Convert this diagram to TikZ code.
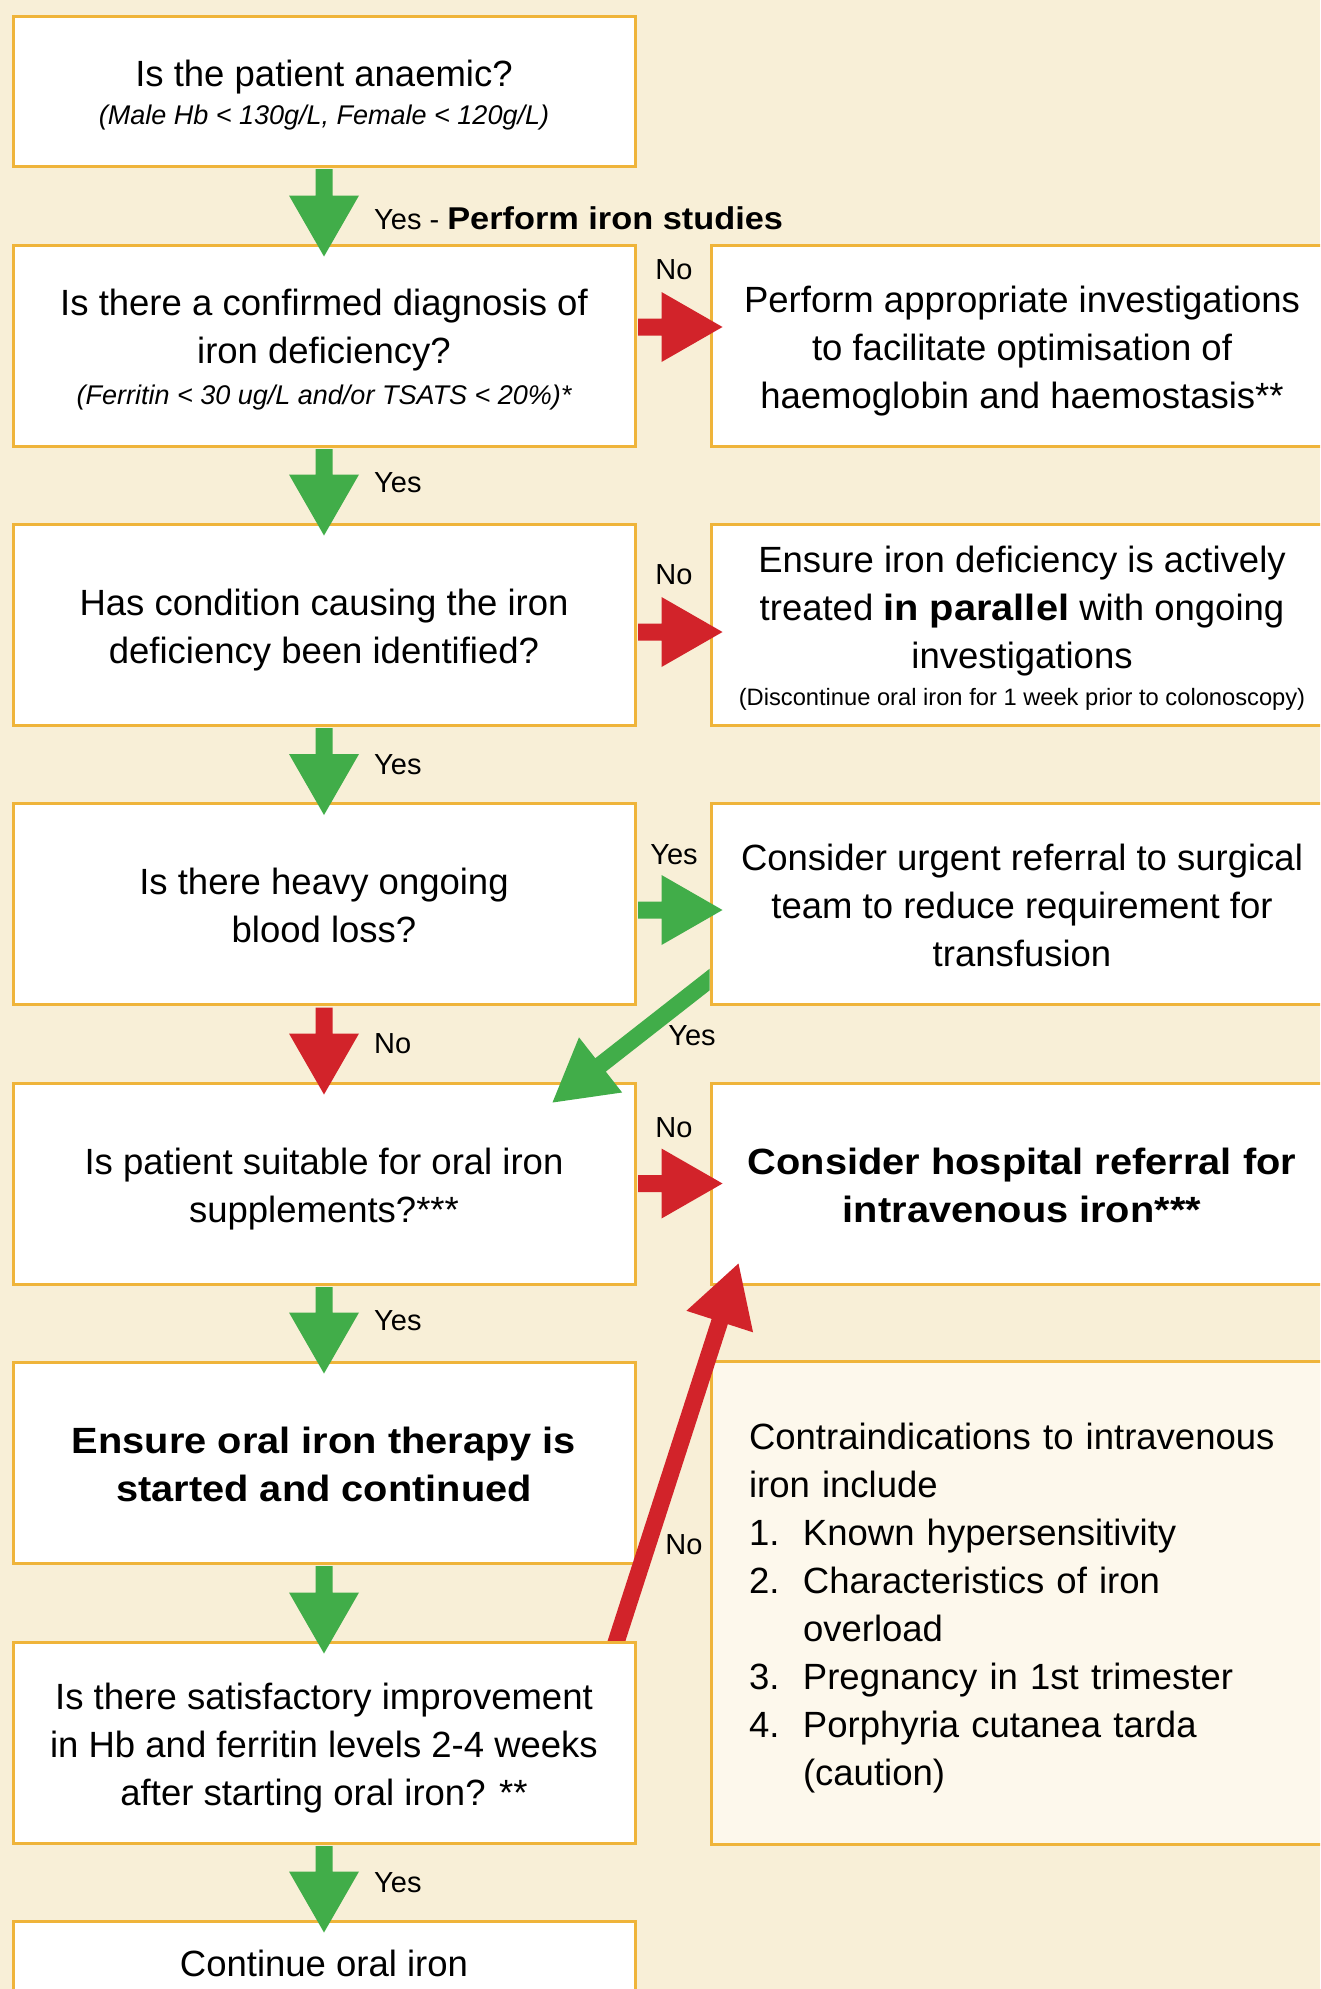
\documentclass[tikz,border=0pt]{standalone}
\usepackage{fontspec}
\setmainfont{Liberation Sans}[BoldFeatures={FakeStretch=1.09}]
\usetikzlibrary{calc}
\definecolor{bgc}{HTML}{F8EFD7}
\definecolor{panel}{HTML}{FDF8EC}
\definecolor{gold}{HTML}{EFB43A}
\definecolor{agreen}{HTML}{41AD49}
\definecolor{ared}{HTML}{D2232A}
\newcommand{\smlit}{\fontsize{27}{44}\selectfont\itshape}
\newcommand{\smlrm}{\fontsize{23.7}{32}\selectfont}
\newcommand{\ts}{\rule{0pt}{38pt}}
\newcommand{\bs}{\rule[-9pt]{0pt}{9pt}}
\newcommand{\fatarrow}[3]{%
  \coordinate (fa1) at (#2);
  \coordinate (fa2) at (#3);
  \coordinate (fab) at ($(fa2)!61pt!(fa1)$);
  \fill[#1] ($(fa1)!8.5pt!90:(fa2)$) -- ($(fab)!8.5pt!90:(fa2)$) -- ($(fab)!35pt!90:(fa2)$)
    -- (fa2) -- ($(fab)!35pt!-90:(fa2)$) -- ($(fab)!8.5pt!-90:(fa2)$) -- ($(fa1)!8.5pt!-90:(fa2)$) -- cycle;}
\begin{document}
\begin{tikzpicture}[x=1pt,y=-1pt,
  box/.style={draw=gold, line width=3pt, fill=white, minimum width=622pt, minimum height=201pt,
    inner sep=0pt, align=center, font=\fontsize{36.5}{48}\selectfont},
  lbl/.style={font=\fontsize{29}{34}\selectfont, inner sep=0pt}]
\useasboundingbox (0,0) rectangle (1320,1989);
\fill[bgc] (0,0) rectangle (1320,1989);
\clip (0,0) rectangle (1320,1989);

% left column
\node[box, minimum height=150pt] (b1) at (324,91) {\ts Is the patient anaemic?\\[-9.5pt]{\smlit (Male Hb < 130g/L, Female < 120g/L)}\bs};
\node[box] (b2) at (324,345.5) {\ts Is there a confirmed diagnosis of\\iron deficiency?\\[-7pt]{\smlit (Ferritin < 30 ug/L and/or TSATS < 20\%)*}\bs};
\node[box] (b3) at (324,624.5) {\ts Has condition causing the iron\\deficiency been identified?\bs};
\node[box] (b4) at (324,904) {\ts Is there heavy ongoing\\blood loss?\bs};
\node[box] (b5) at (324,1183.5) {\ts Is patient suitable for oral iron\\supplements?***\bs};
\node[box] (b6) at (324,1462.5) {\ts\textbf{Ensure oral iron therapy is}\\\textbf{started and continued}\bs};
\node[box] (b7) at (324,1742.5) {\ts Is there satisfactory improvement\\in Hb and ferritin levels 2-4 weeks\\after starting oral iron? **\bs};
\node[box, minimum height=84pt] (b8) at (324,1963) {Continue oral iron};

% right column
\node[box] (r1) at (1022,345.5) {\ts Perform appropriate investigations\\to facilitate optimisation of\\haemoglobin and haemostasis**\bs};
\node[box] (r2) at (1022,624.5) {\ts Ensure iron deficiency is actively\\treated \textbf{in parallel} with ongoing\\investigations\\[-11pt]{\smlrm (Discontinue oral iron for 1 week prior to colonoscopy)}\bs};
\node[box] (r3) at (1022,904) {\ts Consider urgent referral to surgical\\team to reduce requirement for\\transfusion\bs};
\node[box] (r4) at (1022,1183.5) {\ts\textbf{Consider hospital referral for}\\\textbf{intravenous iron***}\bs};
\node[box, fill=panel, minimum height=483pt, align=left, text width=546pt] (r5) at (1022,1603)
 {\ts Contraindications to intravenous\\
  iron include\\
  \makebox[54pt][l]{1.}Known hypersensitivity\\
  \makebox[54pt][l]{2.}Characteristics of iron\\
  \hspace*{54pt}overload\\
  \makebox[54pt][l]{3.}Pregnancy in 1st trimester\\
  \makebox[54pt][l]{4.}Porphyria cutanea tarda\\
  \hspace*{54pt}(caution)\bs};

% vertical arrows
\fatarrow{agreen}{$(b1.south)+(0,1.5)$}{$(b2.north)+(0,13)$}
\fatarrow{agreen}{$(b2.south)+(0,1.5)$}{$(b3.north)+(0,13)$}
\fatarrow{agreen}{$(b3.south)+(0,1.5)$}{$(b4.north)+(0,13)$}
\fatarrow{ared}{$(b4.south)+(0,1.5)$}{$(b5.north)+(0,13)$}
\fatarrow{agreen}{$(b5.south)+(0,1.5)$}{$(b6.north)+(0,13)$}
\fatarrow{agreen}{$(b6.south)+(0,1.5)$}{$(b7.north)+(0,13)$}
\fatarrow{agreen}{$(b7.south)+(0,1.5)$}{$(b8.north)+(0,13)$}

% horizontal arrows
\fatarrow{ared}{$(b2.east)+(1.5,-18.5)$}{$(r1.west)+(13,-18.5)$}
\fatarrow{ared}{$(b3.east)+(1.5,7.5)$}{$(r2.west)+(13,7.5)$}
\fatarrow{agreen}{$(b4.east)+(1.5,6)$}{$(r3.west)+(13,6)$}
\fatarrow{ared}{$(b5.east)+(1.5,0)$}{$(r4.west)+(13,0)$}

% diagonal arrows
\begin{scope}
\clip (r3.north west) rectangle (0,1989);
\fatarrow{agreen}{$(r3.south west)+(20,-42)$}{$(b5.north east)+(-84,21)$}
\end{scope}
\begin{scope}
\clip (0,0) rectangle ($(b7.north east)+(700,0)$);
\fatarrow{ared}{$(b7.north east)+(-26,19)$}{$(r4.south west)+(29,-22)$}
\end{scope}

% labels
\node[lbl, anchor=west] (l1) at (374,218) {Yes - {\fontsize{31.5}{34}\selectfont\bfseries Perform iron studies}};
\node[lbl, anchor=west] (l2) at (374,483) {Yes};
\node[lbl, anchor=west] (l3) at (374,765) {Yes};
\node[lbl, anchor=west] (l4) at (374,1044) {No};
\node[lbl, anchor=west] (l5) at (374,1321) {Yes};
\node[lbl, anchor=west] (l6) at (374,1883) {Yes};
\node[lbl] (n1) at (674,270) {No};
\node[lbl] (n2) at (674,575) {No};
\node[lbl] (n3) at (674,855) {Yes};
\node[lbl] (n4) at (674,1128) {No};
\node[lbl] (n5) at (692,1036) {Yes};
\node[lbl] (n6) at (684,1545) {No};
\end{tikzpicture}
\end{document}
